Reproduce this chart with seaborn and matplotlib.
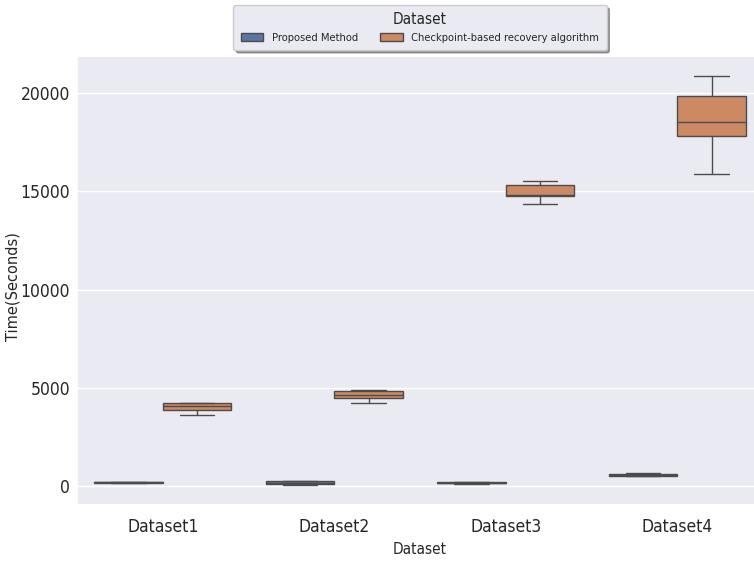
import matplotlib
matplotlib.use("Agg")
import matplotlib.pyplot as plt
from matplotlib import font_manager as fm
import numpy as np
import pandas as pd
import seaborn as sns

# ---- data ----
datasets = ["Dataset1", "Dataset2", "Dataset3", "Dataset4"]
methods = ["Proposed Method", "Checkpoint-based recovery algorithm"]

proposed_d1 = [155, 185, 205, 230, 250]
proposed_d2 = [96, 142, 202, 258, 289]
proposed_d3 = [142, 177, 200, 228, 243]
proposed_d4 = [521, 557, 608, 638, 683]

checkpoint_d1 = [3645, 3899, 4080, 4218, 4253]
checkpoint_d2 = [4233, 4486, 4673, 4860, 4911]
checkpoint_d3 = [14359, 14784, 14835, 15305, 15523]
checkpoint_d4 = [15862, 17822, 18531, 19847, 20839]

series = {
    methods[0]: [proposed_d1, proposed_d2, proposed_d3, proposed_d4],
    methods[1]: [checkpoint_d1, checkpoint_d2, checkpoint_d3, checkpoint_d4],
}
rows = []
for m, groups in series.items():
    for ds, vals in zip(datasets, groups):
        for v in vals:
            rows.append({"Dataset": ds, "Method": m, "Time": v})
df = pd.DataFrame(rows)

# ---- style ----
sns.set_theme(style="darkgrid")
plt.rcParams["font.family"] = ["DejaVu Sans"]

cond_path = None
for f in fm.fontManager.ttflist:
    if f.name == "DejaVu Sans" and "ondensed" in str(f.fname) and f.style == "normal" \
            and "Bold" not in f.fname and "Oblique" not in f.fname:
        cond_path = f.fname
        break
if cond_path is None:
    for f in fm.fontManager.ttflist:
        if f.name == "Liberation Sans Narrow" and f.style == "normal" and "Bold" not in f.fname:
            cond_path = f.fname
            break


def cfont(size):
    if cond_path:
        return fm.FontProperties(fname=cond_path, size=size)
    return fm.FontProperties(family="DejaVu Sans", size=size)


fig = plt.figure(figsize=(7.54, 5.61), dpi=100)
ax = fig.add_axes([77 / 754, 56 / 561, (763 - 77) / 754, (505 - 56) / 561])

sns.boxplot(data=df, x="Dataset", y="Time", hue="Method", hue_order=methods,
            order=datasets, ax=ax)

ax.tick_params(axis="y", length=0, pad=5)
ax.set_xlabel("Dataset", fontproperties=cfont(11))
ax.set_ylabel("Time(Seconds)", fontsize=10.5, labelpad=1)
ax.yaxis.set_label_coords(13 / 754 - 77 / 754, (561 - 287 - 56) / (505 - 56),
                          transform=None)
ax.yaxis.label.set_transform(fig.transFigure)
ax.yaxis.label.set_position((13 / 754, (561 - 287) / 561))
ax.yaxis.label.set_verticalalignment("center")
for lab in ax.get_xticklabels() + ax.get_yticklabels():
    lab.set_fontproperties(cfont(12.5))

handles, labels = ax.get_legend_handles_labels()
if ax.get_legend() is not None:
    ax.get_legend().remove()
leg = ax.legend(handles, labels, title="Dataset", ncol=2, loc="upper center",
                bbox_to_anchor=(420 / 754, 1 - 5 / 561), bbox_transform=fig.transFigure,
                borderaxespad=0, borderpad=0.65,
                shadow=True, prop=cfont(8), title_fontproperties=cfont(11))

fig.savefig("out.png", dpi=100)
